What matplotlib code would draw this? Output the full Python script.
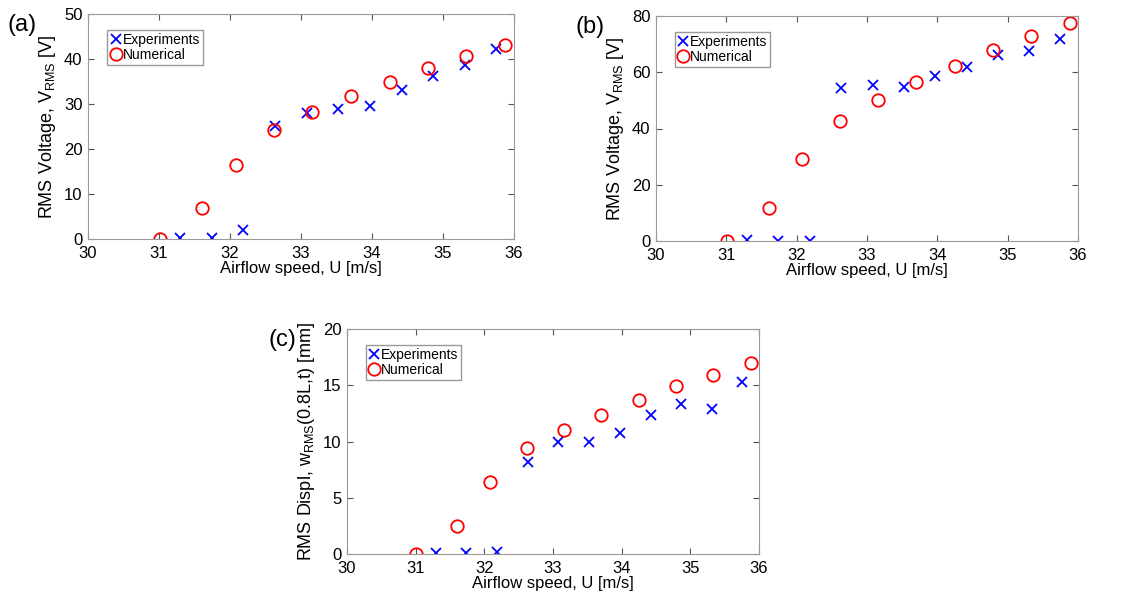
import matplotlib
matplotlib.use('Agg')
import matplotlib.pyplot as plt

plt.rcParams['font.family'] = ['Liberation Sans', 'DejaVu Sans']
plt.rcParams['mathtext.default'] = 'regular'

# measured points
expU = [31.30, 31.74, 32.19, 32.63, 33.08, 33.52, 33.97, 34.42, 34.86, 35.31, 35.75]
numU = [31.01, 31.60, 32.08, 32.62, 33.16, 33.70, 34.25, 34.79, 35.33, 35.88]

expVa = [0.3, 0.3, 1.9, 25.2, 27.9, 28.9, 29.5, 33.2, 36.2, 38.6, 42.3]
numVa = [0.0, 7.0, 16.4, 24.2, 28.3, 31.8, 35.0, 37.9, 40.7, 43.2]

expVb = [0.4, 0.1, 0.1, 54.3, 55.3, 54.9, 58.7, 61.9, 66.0, 67.5, 71.8]
numVb = [0.0, 11.8, 29.1, 42.7, 50.2, 56.6, 62.2, 67.8, 72.8, 77.6]

expW = [0.1, 0.06, 0.2, 8.2, 10.0, 10.0, 10.8, 12.4, 13.3, 12.9, 15.3]
numW = [0.0, 2.5, 6.4, 9.4, 11.0, 12.4, 13.7, 14.9, 15.9, 17.0]

W, H = 1134, 593
fig = plt.figure(figsize=(W / 100, H / 100), dpi=100)


def makeAxes(left, right, top, bottom):
    return fig.add_axes([left / W, 1 - bottom / H, (right - left) / W, (bottom - top) / H])


def drawPanel(ax, ye, yn, ymax, yticks, ylabel, tag):
    ax.plot(expU, ye, 'x', color='blue', ms=7, mew=1.3, label='Experiments')
    ax.plot(numU, yn, 'o', color='red', mfc='none', ms=9, mew=1.3, label='Numerical')
    ax.set_xlim(30, 36)
    ax.set_ylim(0, ymax)
    ax.set_xticks(range(30, 37))
    ax.set_yticks(yticks)
    ax.tick_params(direction='in', top=True, right=True, labelsize=12,
                   color='#555555', length=4)
    ax.tick_params(axis='x', pad=5)
    ax.tick_params(axis='y', pad=4)
    for s in ax.spines.values():
        s.set_color('#999999')
    ax.set_xlabel('Airflow speed, U [m/s]', fontsize=12, labelpad=0)
    ax.set_ylabel(ylabel, fontsize=13, labelpad=4)
    leg = ax.legend(loc='upper left', bbox_to_anchor=(0.045, 0.93), fontsize=10,
                    handlelength=0.8, handletextpad=0.1, borderpad=0.2,
                    labelspacing=0.1, fancybox=False, framealpha=1, borderaxespad=0)
    leg.get_frame().set_edgecolor('#999999')
    ax.text(-0.19, 0.95, tag, transform=ax.transAxes, fontsize=17, va='center', ha='left')


axA = makeAxes(88, 514, 14, 239)
drawPanel(axA, expVa, numVa, 50, range(0, 51, 10),
          r'RMS Voltage, V$_{RMS}$ [V]', '(a)')

axB = makeAxes(656, 1078, 16, 241)
drawPanel(axB, expVb, numVb, 80, range(0, 81, 20),
          r'RMS Voltage, V$_{RMS}$ [V]', '(b)')

axC = makeAxes(347, 759, 329, 554)
drawPanel(axC, expW, numW, 20, range(0, 21, 5),
          r'RMS Displ, w$_{RMS}$(0.8L,t) [mm]', '(c)')

fig.savefig('out.png', dpi=100)
